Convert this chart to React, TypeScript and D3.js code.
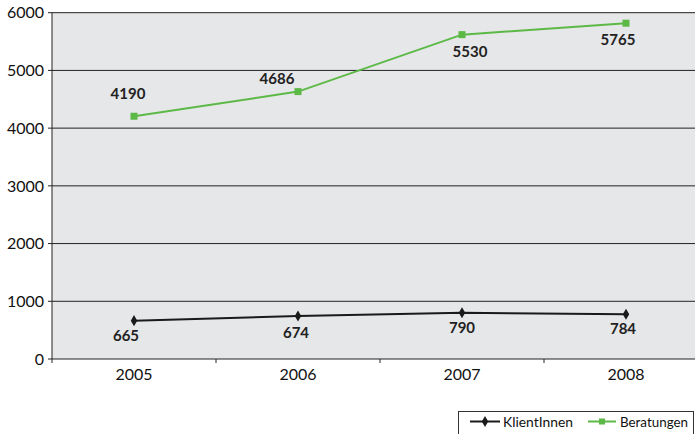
import React from "react";
import * as d3 from "d3";

const years = ["2005", "2006", "2007", "2008"];
const klientValues = [664, 745, 802, 775];
const klientLabels = ["665", "674", "790", "784"];
const beratungValues = [4206, 4633, 5620, 5818];
const beratungLabels = ["4190", "4686", "5530", "5765"];
const yTicks = [0, 1000, 2000, 3000, 4000, 5000, 6000];
const seriesNames = ["KlientInnen", "Beratungen"];

// label placement offsets (dx, dy to baseline) relative to each point
const klientLabelOffsets = [[-8, 20], [-2, 22], [0, 20], [-3, 20]];
const beratungLabelOffsets = [[-6, -17], [-21, -8], [8, 22], [-8, 22]];

const W = 695;
const H = 434;
const left = 52;
const top = 12.7;
const bottom = 359;
const band = 164;

const FONT = "Lato, 'Open Sans', sans-serif";
const GREEN = "#5cb946";
const BLACK = "#1a1a1a";
const BG = "#e6e7e8";

export default function App() {
  const x = d3.scaleBand<string>().domain(years).range([left, left + band * years.length]);
  const y = d3.scaleLinear().domain([0, 6000]).range([bottom, top]);
  const cx = (yr: string) => (x(yr) as number) + x.bandwidth() / 2;
  const line = d3
    .line<number>()
    .x((_, i) => cx(years[i]))
    .y((v) => y(v));

  const diamond = d3.symbol().type(d3.symbolDiamond).size(36)();

  return (
    <svg
      width={W}
      height={H}
      style={{ position: "absolute", left: 0, top: 0, background: "#fff" }}
      fontFamily={FONT}
    >
      <rect x={left} y={top} width={W - left} height={bottom - top} fill={BG} />
      {yTicks.map((t) => (
        <g key={t}>
          {t > 0 && (
            <line x1={left} x2={W} y1={y(t)} y2={y(t)} stroke="#222" strokeWidth={1} />
          )}
          <line x1={left - 4} x2={left} y1={y(t)} y2={y(t)} stroke="#222" strokeWidth={1} />
          <text x={44} y={y(t)} dy="0.36em" textAnchor="end" fontSize={16} fill="#111">
            {t}
          </text>
        </g>
      ))}
      {/* axes */}
      <line x1={left} x2={left} y1={top} y2={bottom} stroke="#222" strokeWidth={1} />
      <line x1={left} x2={W} y1={bottom} y2={bottom} stroke="#222" strokeWidth={1} />
      {years.map((yr, i) => (
        <g key={yr}>
          <line
            x1={(x(yr) as number) + band}
            x2={(x(yr) as number) + band}
            y1={bottom}
            y2={bottom + 4}
            stroke="#222"
          />
          {i === 0 && (
            <line x1={left} x2={left} y1={bottom} y2={bottom + 4} stroke="#222" />
          )}
          <text x={cx(yr)} y={380} textAnchor="middle" fontSize={16} fill="#111">
            {yr}
          </text>
        </g>
      ))}

      {/* Beratungen */}
      <path d={line(beratungValues) || ""} fill="none" stroke={GREEN} strokeWidth={2} />
      {beratungValues.map((v, i) => (
        <rect key={i} x={cx(years[i]) - 3.5} y={y(v) - 3.5} width={7} height={7} fill={GREEN} />
      ))}
      {beratungValues.map((v, i) => (
        <text
          key={i}
          x={cx(years[i]) + beratungLabelOffsets[i][0]}
          y={y(v) + beratungLabelOffsets[i][1]}
          textAnchor="middle"
          fontSize={15}
          fontWeight="bold"
          fill="#222"
        >
          {beratungLabels[i]}
        </text>
      ))}

      {/* KlientInnen */}
      <path d={line(klientValues) || ""} fill="none" stroke={BLACK} strokeWidth={2} />
      {klientValues.map((v, i) => (
        <path key={i} d={diamond || ""} transform={`translate(${cx(years[i])},${y(v)})`} fill={BLACK} />
      ))}
      {klientValues.map((v, i) => (
        <text
          key={i}
          x={cx(years[i]) + klientLabelOffsets[i][0]}
          y={y(v) + klientLabelOffsets[i][1]}
          textAnchor="middle"
          fontSize={15}
          fontWeight="bold"
          fill="#222"
        >
          {klientLabels[i]}
        </text>
      ))}

      {/* legend */}
      <rect x={458.5} y={411.5} width={235} height={23} fill="#fff" stroke="#333" strokeWidth={1} />
      <line x1={470} x2={500} y1={421.5} y2={421.5} stroke={BLACK} strokeWidth={2} />
      <path d={diamond || ""} transform="translate(485,421.5)" fill={BLACK} />
      <text x={503} y={427} fontSize={14} fill="#111" textLength={70} lengthAdjust="spacingAndGlyphs">
        {seriesNames[0]}
      </text>
      <line x1={588} x2={616} y1={421.5} y2={421.5} stroke={GREEN} strokeWidth={2} />
      <rect x={599} y={418.5} width={6} height={6} fill={GREEN} />
      <text x={620} y={427} fontSize={14} fill="#111" textLength={68} lengthAdjust="spacingAndGlyphs">
        {seriesNames[1]}
      </text>
    </svg>
  );
}
